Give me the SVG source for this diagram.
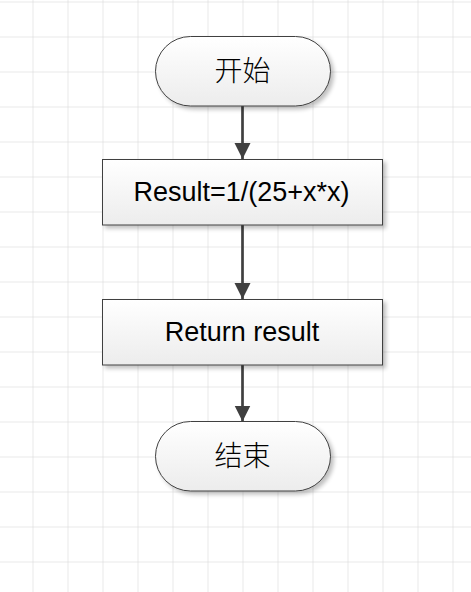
<svg xmlns="http://www.w3.org/2000/svg" width="471" height="592" viewBox="0 0 471 592">
<defs>
<pattern id="grid" x="32.5" y="1.5" width="35" height="35" patternUnits="userSpaceOnUse">
<path d="M0 0V35M0 0H35" fill="none" stroke="#d3d3d3" stroke-width="1"/>
</pattern>
<linearGradient id="fillg" x1="0" y1="0" x2="0" y2="1">
<stop offset="0" stop-color="#ffffff"/>
<stop offset="1" stop-color="#ececec"/>
</linearGradient>
<filter id="sh" x="-10%" y="-10%" width="130%" height="140%">
<feGaussianBlur in="SourceAlpha" stdDeviation="2"/>
<feOffset dx="3" dy="3" result="b"/>
<feComponentTransfer><feFuncA type="linear" slope="0.25"/></feComponentTransfer>
<feMerge><feMergeNode/><feMergeNode in="SourceGraphic"/></feMerge>
</filter>
<marker id="arr" viewBox="0 0 16 17" refX="16" refY="8" markerWidth="16" markerHeight="17" markerUnits="userSpaceOnUse" orient="auto">
<path d="M0 0L16 8L0 16Z" fill="#404040"/>
</marker>
<style>
.shape{fill:url(#fillg);stroke:#404040;stroke-width:1;filter:url(#sh)}
.lat{font-family:"Liberation Sans",Arial,sans-serif;font-size:27px;fill:#000;text-anchor:middle}
.cjk{font-family:"Noto Sans CJK SC","Noto Sans",sans-serif;font-size:28px;font-weight:300;fill:#000;text-anchor:middle}
.conn{stroke:#404040;stroke-width:2.7;fill:none;marker-end:url(#arr)}
</style>
</defs>
<rect width="471" height="592" fill="#fff"/>
<rect width="471" height="592" fill="url(#grid)"/>
<g id="connectors">
<line class="conn" x1="242.5" y1="106" x2="242.5" y2="159"/>
<line class="conn" x1="242.5" y1="225" x2="242.5" y2="299"/>
<line class="conn" x1="242.5" y1="365" x2="242.5" y2="421.5"/>
</g>
<g id="start">
<rect class="shape" x="155.5" y="36.5" width="175" height="69.5" rx="35" ry="34.75"/>
<text class="cjk" x="242.5" y="80.5">开始</text>
</g>
<g id="compute">
<rect class="shape" x="102.5" y="159.5" width="280" height="65.5"/>
<text class="lat" x="241.5" y="201">Result=1/(25+x*x)</text>
</g>
<g id="return">
<rect class="shape" x="102.5" y="299.5" width="280" height="65.5"/>
<text class="lat" x="242" y="341">Return result</text>
</g>
<g id="end">
<rect class="shape" x="155.5" y="421.5" width="175" height="69.5" rx="35" ry="34.75"/>
<text class="cjk" x="242.5" y="465.5">结束</text>
</g>
</svg>
